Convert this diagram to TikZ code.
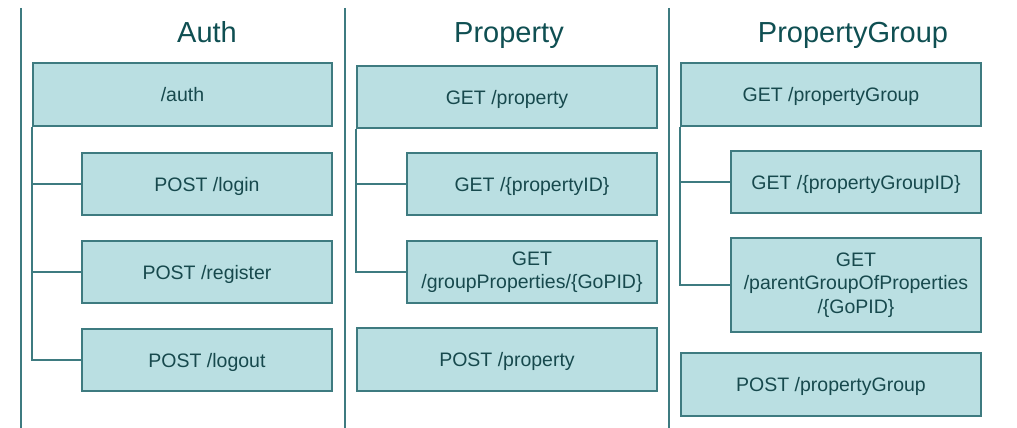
\documentclass[tikz,border=0pt]{standalone}
\usepackage{fontspec}
\setmainfont{Liberation Sans}
\definecolor{boxfill}{HTML}{BADFE2}
\definecolor{boxdraw}{HTML}{3E7B80}
\definecolor{boxtext}{HTML}{17494D}
\definecolor{titletext}{HTML}{0F4F52}
\tikzset{
  ep/.style={draw=boxdraw, fill=boxfill, line width=1.5pt, text=boxtext,
    font=\fontsize{19.5}{23.5}\selectfont, inner sep=0pt, align=center,
    minimum height=63pt},
  onel/.style={text height=14pt, text depth=0pt},
  rootw/.style={minimum width=300pt},
  childw/.style={minimum width=250pt},
  coltitle/.style={text=titletext, font=\fontsize{29}{35}\selectfont, anchor=base, inner sep=0pt},
  divider/.style={draw=boxdraw, line width=1.6pt},
  tree/.style={draw=boxdraw, line width=1.7pt},
}
\begin{document}
\begin{tikzpicture}[x=1pt, y=-1pt]
\useasboundingbox (0,0) rectangle (1017,428);
% dividers
\draw[divider] (21,8) -- (21,428);
\draw[divider] (345,8) -- (345,428);
\draw[divider] (669,8) -- (669,428);
% titles
\node[coltitle] (tAuth) at (207,43) {Auth};
\node[coltitle] (tProp) at (509,43) {Property};
\node[coltitle] (tPG) at (853,43) {PropertyGroup};
% Auth column
\node[ep, onel, minimum width=299pt] (auth) at (182.5,94.5) {/auth};
\node[ep, onel, childw, minimum height=62pt] (login) at (207,184) {POST /login};
\node[ep, onel, childw, minimum height=62pt] (register) at (207,272) {POST /register};
\node[ep, onel, childw, minimum height=62pt] (logout) at (207,360) {POST /logout};
\draw[tree] (auth.south west) |- (login.west);
\draw[tree] (auth.south west) |- (register.west);
\draw[tree] (auth.south west) |- (logout.west);
% Property column
\node[ep, onel, rootw, minimum height=62pt] (prop) at (507,97) {GET /property};
\node[ep, onel, childw, minimum height=62pt] (propid) at (532,184) {GET /\{propertyID\}};
\node[ep, childw, minimum height=62pt] (groupprops) at (532,272) {GET\\/groupProperties/\{GoPID\}};
\node[ep, onel, rootw] (postprop) at (507,359.5) {POST /property};
\draw[tree] (prop.south west) |- (propid.west);
\draw[tree] (prop.south west) |- (groupprops.west);
% PropertyGroup column
\node[ep, onel, rootw] (pg) at (831,94.5) {GET /propertyGroup};
\node[ep, onel, childw, minimum height=62pt] (pgid) at (856,182) {GET /\{propertyGroupID\}};
\node[ep, childw, minimum height=94pt] (parent) at (856,285) {GET\\/parentGroupOfProperties\\/\{GoPID\}};
\node[ep, onel, rootw] (postpg) at (831,384.5) {POST /propertyGroup};
\draw[tree] (pg.south west) |- (pgid.west);
\draw[tree] (pg.south west) |- (parent.west);
\end{tikzpicture}
\end{document}
